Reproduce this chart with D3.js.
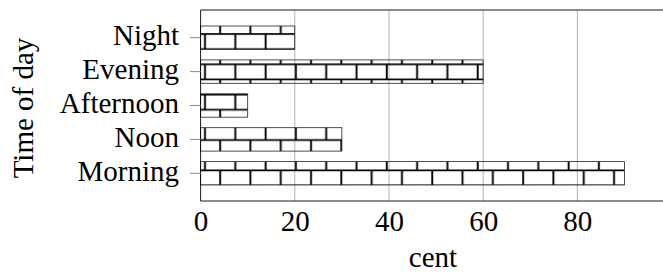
<!DOCTYPE html>
<html>
<head>
<meta charset="utf-8">
<script src="https://cdn.jsdelivr.net/npm/d3@7"></script>
<style>
  html, body { margin: 0; padding: 0; background: #fff; }
  svg { display: block; font-family: "Liberation Serif", "DejaVu Serif", serif; }
</style>
</head>
<body>
<svg id="chart" width="663" height="273"></svg>
<script>
// Data
const categories = ["Night", "Evening", "Afternoon", "Noon", "Morning"];
const values     = [20, 60, 10, 30, 90];
const xTicks     = [0, 20, 40, 60, 80];
const gridTicks  = [20, 40, 60, 80];
const xLabel = "cent";
const yLabel = "Time of day";

const FONT = 29;
const plot = { left: 200.6, right: 665.4, top: 10, bottom: 201 };

const svg = d3.select("#chart");

const x = d3.scaleLinear().domain([0, 98.7]).range([plot.left, plot.right]);
const y = d3.scaleBand()
  .domain(categories)
  .range([20.75, 190.25])
  .paddingInner(0.31)
  .paddingOuter(0.155);

// Brick pattern, anchored to the page like the TikZ one
const step = 30.3, half = step / 2;
const pat = svg.append("defs").append("pattern")
  .attr("id", "bricks")
  .attr("patternUnits", "userSpaceOnUse")
  .attr("x", 205 - half / 2)
  .attr("y", 34 - half / 4)
  .attr("width", step)
  .attr("height", step);
const ox = half / 2, oy = half / 4;
const brickPath = [
  `M0,${oy}H${step}`,
  `M0,${oy + half}H${step}`,
  `M${ox},${oy}V${oy + half}`,
  `M${ox + half},${oy + half}V${step}`,
  `M${ox + half},0V${oy}`,
].join("");
pat.append("path")
  .attr("d", brickPath)
  .attr("fill", "none")
  .attr("stroke", "#000")
  .attr("stroke-width", 1.9);

// Grid lines
svg.append("g")
  .selectAll("line")
  .data(gridTicks)
  .join("line")
  .attr("x1", (d) => x(d)).attr("x2", (d) => x(d))
  .attr("y1", plot.top).attr("y2", plot.bottom)
  .attr("stroke", "#b4b4b4")
  .attr("stroke-width", 1);

// Bars
svg.append("g")
  .selectAll("rect")
  .data(categories)
  .join("rect")
  .attr("x", x(0))
  .attr("y", (d) => y(d))
  .attr("width", (d, i) => x(values[i]) - x(0))
  .attr("height", y.bandwidth())
  .attr("fill", "url(#bricks)")
  .attr("stroke", "#222")
  .attr("stroke-width", 0.8);

// Axis frame (right edge falls outside the picture)
svg.append("path")
  .attr("d", `M${plot.right},${plot.top}H${plot.left}V${plot.bottom}H${plot.right}`)
  .attr("fill", "none")
  .attr("stroke", "#000")
  .attr("stroke-width", 0.9);

// X axis labels
const xAxis = svg.append("g")
  .attr("transform", `translate(0,${plot.bottom})`)
  .call(d3.axisBottom(x).tickValues(xTicks).tickSize(0).tickFormat(d3.format("d")));
xAxis.select(".domain").remove();
xAxis.selectAll("text")
  .attr("y", 30).attr("dy", null)
  .attr("font-size", FONT)
  .attr("font-family", "Liberation Serif")
  .attr("fill", "#000");

// Y axis
const yAxis = svg.append("g")
  .attr("transform", `translate(${plot.left},0)`)
  .call(d3.axisLeft(y).tickSize(10.6).tickPadding(11));
yAxis.select(".domain").remove();
yAxis.selectAll("line").attr("stroke", "#8a8a8a").attr("stroke-width", 1);
yAxis.selectAll("text")
  .attr("dy", "0.26em")
  .attr("font-size", FONT)
  .attr("font-family", "Liberation Serif")
  .attr("fill", "#000");

// Axis titles
svg.append("text")
  .attr("x", (plot.left + plot.right) / 2)
  .attr("y", 267)
  .attr("text-anchor", "middle")
  .attr("font-size", FONT)
  .text(xLabel);

svg.append("text")
  .attr("transform", `translate(33,108) rotate(-90)`)
  .attr("text-anchor", "middle")
  .attr("font-size", FONT)
  .text(yLabel);
</script>
</body>
</html>
